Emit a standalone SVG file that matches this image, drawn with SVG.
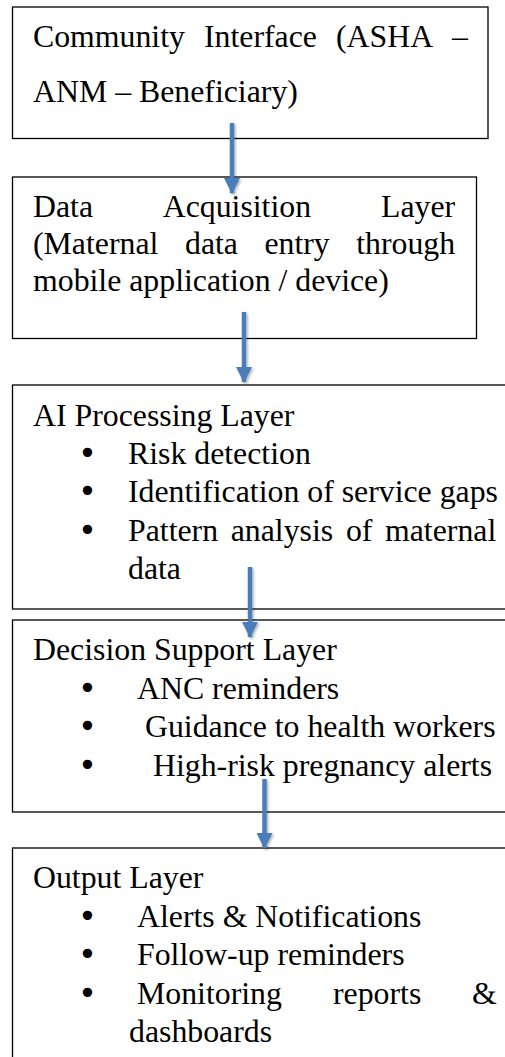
<svg xmlns="http://www.w3.org/2000/svg" width="505" height="1057" viewBox="0 0 505 1057">
<style>
.box{fill:#fff;stroke:#000;stroke-width:1.3}
.t{font-family:"Liberation Serif","Times New Roman",serif;font-size:31.8px;fill:#000}
.b{font-family:"DejaVu Sans",sans-serif;font-size:32px;fill:#000;text-anchor:middle}
.arr{stroke:#4a7ebb;stroke-width:4.5;fill:none;marker-end:url(#ah)}
</style>
<defs>
<marker id="ah" markerUnits="userSpaceOnUse" markerWidth="16" markerHeight="16" refX="15" refY="8" orient="auto" viewBox="0 0 16 16">
<path d="M0,0 L16,8 L0,16 Z" fill="#4a7ebb"/>
</marker>
<filter id="sh" x="-50%" y="-10%" width="200%" height="120%">
<feDropShadow dx="1.5" dy="1.5" stdDeviation="1.2" flood-color="#000" flood-opacity="0.3"/>
</filter>
</defs>
<rect width="505" height="1057" fill="#fff"/>
<g id="n1">
<rect class="box" x="12.5" y="7" width="475.5" height="131.5"/>
<text class="t" y="47"><tspan x="33">Community</tspan><tspan x="204">Interface</tspan><tspan x="336">(ASHA</tspan><tspan x="452">–</tspan></text>
<text class="t" x="33" y="102">ANM – Beneficiary)</text>
</g>
<g id="n2">
<rect class="box" x="12.5" y="177" width="464" height="161.5"/>
<text class="t" y="217"><tspan x="33">Data</tspan><tspan x="162.7">Acquisition</tspan><tspan x="381">Layer</tspan></text>
<text class="t" y="254"><tspan x="33">(Maternal</tspan><tspan x="185">data</tspan><tspan x="264.4">entry</tspan><tspan x="356.2">through</tspan></text>
<text class="t" x="33" y="291">mobile application / device)</text>
</g>
<g id="n3">
<rect class="box" x="12.5" y="385" width="510" height="224"/>
<text class="t" x="33" y="425.5">AI Processing Layer</text>
<text class="b" x="87.5" y="463.5">•</text>
<text class="t" x="128" y="463.5">Risk detection</text>
<text class="b" x="87.5" y="502">•</text>
<text class="t" x="128" y="502">Identification of service gaps</text>
<text class="b" x="87.5" y="540.5">•</text>
<text class="t" y="540.5"><tspan x="128">Pattern</tspan><tspan x="230.7">analysis</tspan><tspan x="345.9">of</tspan><tspan x="385">maternal</tspan></text>
<text class="t" x="128" y="579">data</text>
</g>
<g id="n4">
<rect class="box" x="12.5" y="620" width="510" height="192"/>
<text class="t" x="33" y="660">Decision Support Layer</text>
<text class="b" x="87.5" y="698.5">•</text>
<text class="t" x="137" y="698.5">ANC reminders</text>
<text class="b" x="87.5" y="737">•</text>
<text class="t" x="145" y="737">Guidance to health workers</text>
<text class="b" x="87.5" y="776">•</text>
<text class="t" x="153" y="776">High-risk pregnancy alerts</text>
</g>
<g id="n5">
<rect class="box" x="12.5" y="848" width="510" height="230"/>
<text class="t" x="33" y="888">Output Layer</text>
<text class="b" x="87.5" y="926.5">•</text>
<text class="t" x="137" y="926.5">Alerts &amp; Notifications</text>
<text class="b" x="87.5" y="965">•</text>
<text class="t" x="137" y="965">Follow-up reminders</text>
<text class="b" x="87.5" y="1003.5">•</text>
<text class="t" y="1003.5"><tspan x="137">Monitoring</tspan><tspan x="333">reports</tspan><tspan x="472">&amp;</tspan></text>
<text class="t" x="129" y="1042">dashboards</text>
</g>
<g id="connectors" filter="url(#sh)">
<line class="arr" x1="232" y1="123" x2="232" y2="193"/>
<line class="arr" x1="244" y1="312" x2="244" y2="382"/>
<line class="arr" x1="250" y1="567" x2="250" y2="637"/>
<line class="arr" x1="264.5" y1="779" x2="264.5" y2="848"/>
</g>
</svg>
